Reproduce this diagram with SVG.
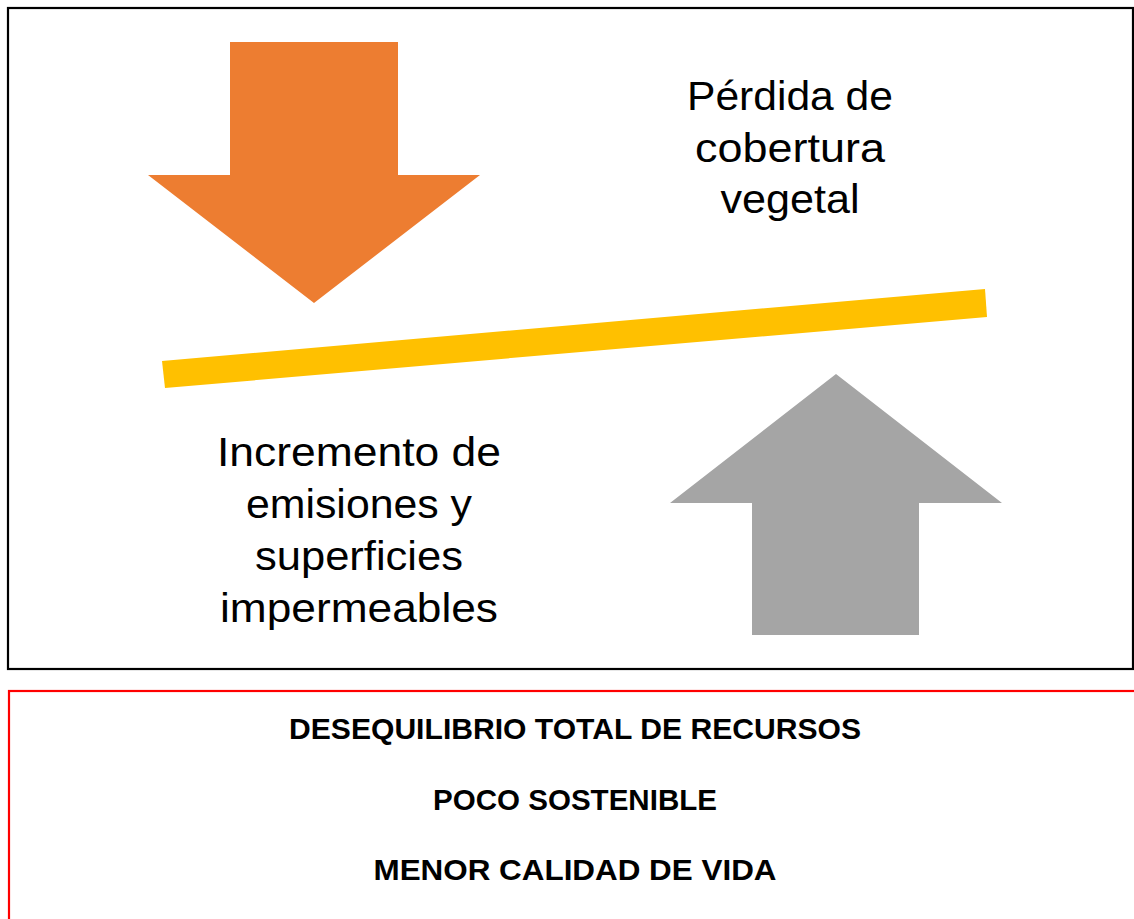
<svg xmlns="http://www.w3.org/2000/svg" width="1134" height="919" viewBox="0 0 1134 919">
<style>
.lbl{font-family:"Liberation Sans",Arial,sans-serif;font-size:40px;fill:#000;text-anchor:middle}
.bold{font-family:"Liberation Sans",Arial,sans-serif;font-size:30px;font-weight:bold;fill:#000;text-anchor:middle}
</style>
<rect width="1134" height="919" fill="#fff"/>
<g id="top-frame">
<rect x="8" y="8" width="1125" height="661" fill="none" stroke="#000" stroke-width="2.2"/>
</g>
<g id="orange-arrow">
<polygon points="230,42 398,42 398,175 480,175 314,303 148,175 230,175" fill="#ED7D31"/>
</g>
<g id="balance-bar">
<polygon points="162,361 985,289 987,317 165,388" fill="#FFC000"/>
</g>
<g id="gray-arrow">
<polygon points="836,374 1002,503 919,503 919,635 752,635 752,503 670,503" fill="#A5A5A5"/>
</g>
<g id="label-perdida">
<text class="lbl" x="790" y="110" textLength="206" lengthAdjust="spacingAndGlyphs">Pérdida de</text>
<text class="lbl" x="790" y="162" textLength="190" lengthAdjust="spacingAndGlyphs">cobertura</text>
<text class="lbl" x="790" y="213" textLength="139" lengthAdjust="spacingAndGlyphs">vegetal</text>
</g>
<g id="label-incremento">
<text class="lbl" x="359" y="466" textLength="284" lengthAdjust="spacingAndGlyphs">Incremento de</text>
<text class="lbl" x="359" y="518" textLength="226" lengthAdjust="spacingAndGlyphs">emisiones y</text>
<text class="lbl" x="359" y="570" textLength="208" lengthAdjust="spacingAndGlyphs">superficies</text>
<text class="lbl" x="359" y="622" textLength="278" lengthAdjust="spacingAndGlyphs">impermeables</text>
</g>
<g id="conclusion-box">
<rect x="9" y="691" width="1140" height="240" fill="none" stroke="#FF0000" stroke-width="2.2"/>
<text class="bold" x="575" y="739" textLength="572" lengthAdjust="spacingAndGlyphs">DESEQUILIBRIO TOTAL DE RECURSOS</text>
<text class="bold" x="575" y="810" textLength="284" lengthAdjust="spacingAndGlyphs">POCO SOSTENIBLE</text>
<text class="bold" x="575" y="880" textLength="403" lengthAdjust="spacingAndGlyphs">MENOR CALIDAD DE VIDA</text>
</g>
<g id="connectors"></g>
</svg>
